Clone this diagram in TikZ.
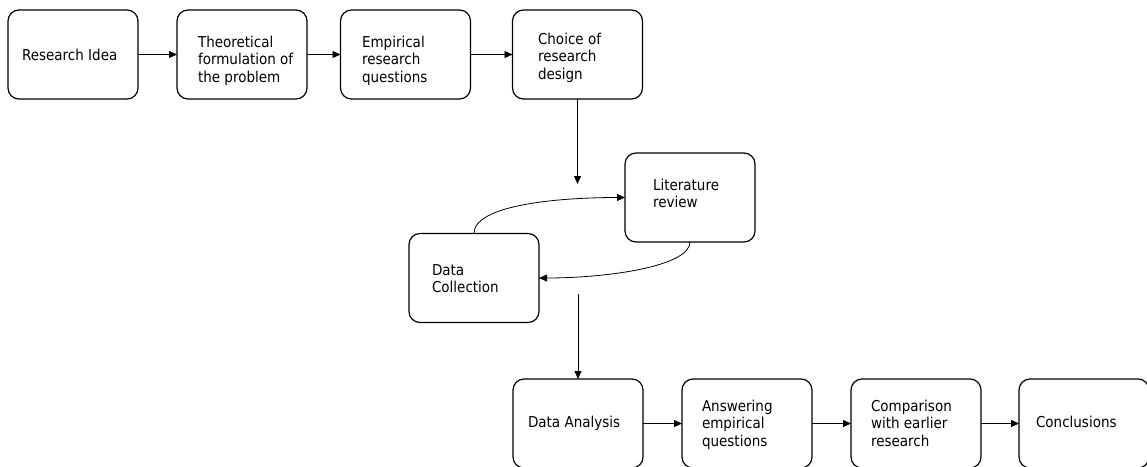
\documentclass[tikz,border=0pt]{standalone}
\usepackage{fontspec}
\newfontfamily\diagfont{DejaVu Sans}[FakeStretch=0.9]
\usetikzlibrary{arrows.meta}
\newcommand{\mlines}[1]{\parbox[t]{110pt}{\raggedright\diagfont\fontsize{15}{17.5}\selectfont #1}}
\tikzset{
  box/.style={draw=black, line width=1.2pt, rounded corners=11pt, minimum width=130pt, minimum height=89pt, inner sep=0pt, outer sep=0pt},
  txt/.style={inner sep=0pt, outer sep=0pt, anchor=base west, text=black},
  arr/.style={draw=black, line width=0.8pt, -{Triangle[length=8pt,width=7pt]}}
}
\begin{document}
\begin{tikzpicture}[x=1pt,y=-1pt]
\useasboundingbox (0,0) rectangle (1147,466);
\clip (0,0) rectangle (1147,466);
% top row
\node[box] (ri)  at (73,54.5) {};
\node[box] (tf)  at (242,54.5) {};
\node[box] (erq) at (405.5,54.5) {};
\node[box] (crd) at (577.5,54.5) {};
% middle
\node[box] (lr) at (690,197.5) {};
\node[box] (dc) at (474,278) {};
% bottom row
\node[box] (da)  at (578,423.5) {};
\node[box] (aeq) at (747,423.5) {};
\node[box] (cer) at (916,423.5) {};
\node[box] (con) at (1084,423.5) {};
% texts
\node[txt] (ri-t)  at (22,60)   {\mlines{Research Idea}};
\node[txt] (tf-t)  at (198,47)  {\mlines{Theoretical\\formulation of\\the problem}};
\node[txt] (erq-t) at (362,47)  {\mlines{Empirical\\research\\questions}};
\node[txt] (crd-t) at (538,44)  {\mlines{Choice of\\research\\design}};
\node[txt] (lr-t)  at (653,190) {\mlines{Literature\\review}};
\node[txt] (dc-t)  at (432,275) {\mlines{Data\\Collection}};
\node[txt] (da-t)  at (528,427) {\mlines{Data Analysis}};
\node[txt] (aeq-t) at (702,411) {\mlines{Answering\\empirical\\questions}};
\node[txt] (cer-t) at (871,411) {\mlines{Comparison\\with earlier\\research}};
\node[txt] (con-t) at (1036,427) {\mlines{Conclusions}};
% connectors
\draw[arr] (ri) -- (tf);
\draw[arr] (tf) -- (erq);
\draw[arr] (erq) -- (crd);
\coordinate (p1) at (577.5,184);
\draw[arr] (crd.south) -- (p1);
\draw[arr] (dc.north) .. controls +(0,-28) and +(-70,0) .. (lr.west);
\draw[arr] (lr.south) .. controls +(0,24) and +(70,0) .. (dc.east);
\coordinate (p2) at (578,294);
\draw[arr] (p2) -- (da.north);
\draw[arr] (da) -- (aeq);
\draw[arr] (aeq) -- (cer);
\draw[arr] (cer) -- (con);
\end{tikzpicture}
\end{document}
